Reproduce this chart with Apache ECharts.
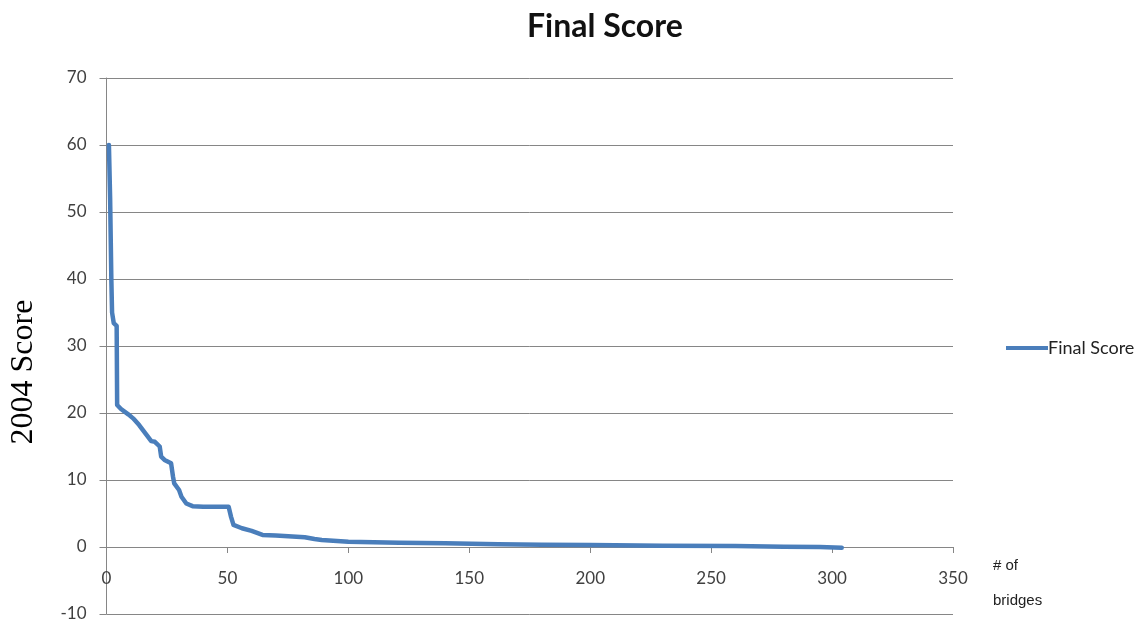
<!DOCTYPE html>
<html>
<head>
<meta charset="utf-8">
<title>Final Score</title>
<script src="https://cdn.jsdelivr.net/npm/echarts@6/dist/echarts.min.js"></script>
<style>
  html, body { margin: 0; padding: 0; background: #fff; }
  #chart { width: 1141px; height: 623px; }
</style>
</head>
<body>
<div id="chart"></div>
<script>
// Bridge rank (# of bridges) and its 2004 final score, sorted high to low
const bridgeRank = [1, 1.5, 2, 2.3, 3, 4.2, 4.4, 6, 9, 11, 13.5, 16, 18.5, 20, 22, 22.6, 24, 26.7, 27.5, 28, 30, 31, 33, 35.6, 40, 50.5, 51.5, 52.5, 56, 60, 64.5, 70, 82, 86, 89, 100, 121, 140, 162, 180, 200, 230, 260, 280, 295, 304];
const finalScore = [60, 52, 40, 35, 33.4, 33, 21.2, 20.6, 19.8, 19.2, 18.2, 17, 15.8, 15.7, 15, 13.5, 13, 12.5, 10.5, 9.5, 8.5, 7.5, 6.5, 6.1, 6.0, 6.0, 4.5, 3.3, 2.8, 2.4, 1.8, 1.7, 1.45, 1.2, 1.05, 0.8, 0.65, 0.55, 0.4, 0.35, 0.3, 0.2, 0.15, 0.05, 0, -0.1];
const seriesName = 'Final Score';
const xTicks = { min: 0, max: 350, step: 50 };
const yTicks = { min: -10, max: 70, step: 10 };

const points = bridgeRank.map((x, i) => [x, finalScore[i]]);

const gridColor = '#868686';
const labelColor = '#404040';
const uiFont = 'Lato';

const chart = echarts.init(document.getElementById('chart'), null, { renderer: 'canvas' });
chart.setOption({
  animation: false,
  backgroundColor: '#ffffff',
  title: {
    text: 'Final Score',
    left: 522,
    top: 6,
    textStyle: { fontFamily: uiFont, fontWeight: 'bold', fontSize: 32, color: '#111' }
  },
  legend: {
    left: 1001,
    top: 334,
    icon: 'rect',
    itemWidth: 42,
    itemHeight: 4,
    textStyle: { fontFamily: uiFont, fontSize: 18, color: '#222', padding: [0, 0, 0, -5] },
    data: [seriesName]
  },
  grid: { left: 106.5, right: 188, top: 78, bottom: 9, containLabel: false, outerBoundsMode: 'none' },
  xAxis: {
    type: 'value',
    min: xTicks.min,
    max: xTicks.max,
    interval: xTicks.step,
    axisLine: { show: true, onZero: true, lineStyle: { color: gridColor, width: 1 } },
    axisTick: { show: true, length: 6, lineStyle: { color: gridColor } },
    // tick labels sit midway between the 0 and -10 gridlines
    axisLabel: { margin: -44, color: labelColor, fontFamily: uiFont, fontSize: 17 },
    splitLine: { show: false }
  },
  yAxis: {
    type: 'value',
    min: yTicks.min,
    max: yTicks.max,
    interval: yTicks.step,
    axisLine: { show: true, lineStyle: { color: gridColor, width: 1 } },
    axisTick: { show: true, length: 7, lineStyle: { color: gridColor } },
    axisLabel: { margin: 20, color: labelColor, fontFamily: uiFont, fontSize: 17 },
    splitLine: { show: true, lineStyle: { color: gridColor, width: 1 } }
  },
  graphic: [
    {
      type: 'text',
      x: 24,
      y: 372,
      rotation: Math.PI / 2,
      style: {
        text: '2004 Score',
        font: '32px "Liberation Serif"',
        fill: '#000',
        textAlign: 'center',
        textVerticalAlign: 'middle'
      }
    },
    {
      type: 'text',
      x: 993,
      y: 548,
      style: {
        text: '# of\nbridges',
        font: '15px "Liberation Sans"',
        lineHeight: 35,
        fill: '#222',
        textAlign: 'left',
        textVerticalAlign: 'top'
      }
    }
  ],
  series: [{
    name: seriesName,
    type: 'line',
    data: points,
    showSymbol: false,
    symbol: 'none',
    lineStyle: { color: '#4A7EBB', width: 4.5, cap: 'round', join: 'round' },
    itemStyle: { color: '#4A7EBB' }
  }]
});
</script>
</body>
</html>
